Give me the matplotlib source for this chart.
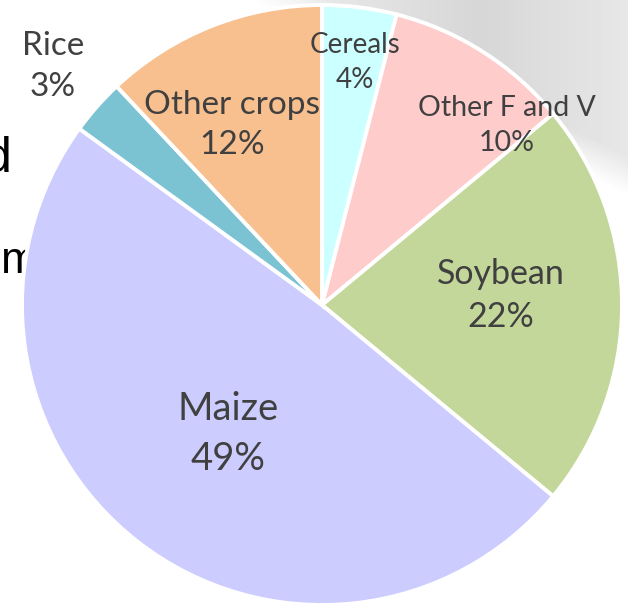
import matplotlib
matplotlib.use("Agg")
from matplotlib import pyplot as plt
import numpy as np

plt.rcParams['font.family'] = ['Lato', 'DejaVu Sans']

# data
crops = ["Cereals", "Other F and V", "Soybean", "Maize", "Rice", "Other crops"]
shares = [4, 10, 22, 49, 3, 12]
colors = ["#CCFFFF", "#FFCCCC", "#C4D79B", "#CCCCFF", "#7BC3D3", "#F8C08F"]

# label placement (x, y in pie radii from centre) and font size
label_pos = [(0.11, 0.808), (0.617, 0.598), (0.597, 0.032), (-0.313, -0.43), (-0.897, 0.795), (-0.30, 0.60)]
label_size = [20, 20.5, 24.5, 27.5, 24, 24]

fig = plt.figure(figsize=(6.28, 6.08), dpi=100)

# grey photo-like backdrop in the top right corner
bg = fig.add_axes([0, 0, 1, 1])
yy, xx = np.mgrid[0:608, 0:628]
edge = 0.52 * (xx - 250)
inside = np.clip((edge - yy) / 40.0, 0, 1)
shade = 0.84 + 0.08 * np.clip(np.abs(xx - 480) / 180.0, 0, 1)
img = 1 - inside * (1 - shade)
bg.imshow(img, cmap="gray", vmin=0, vmax=1, aspect="auto", extent=[0, 628, 608, 0])
bg.set_xlim(0, 628)
bg.set_ylim(608, 0)
bg.axis("off")

# leftover slide text fragments on the left
bg.text(12, 172, "d", fontsize=36, color="black", ha="right", va="baseline",
        family=["Liberation Sans"])
bg.text(38, 273, "m", fontsize=32, color="black", ha="right", va="baseline",
        family=["Liberation Sans"])

ax = fig.add_axes([0, 0, 1, 1])
ax.patch.set_alpha(0)
wedges, _ = ax.pie(shares, colors=colors, startangle=90, counterclock=False,
                   radius=1.0, wedgeprops=dict(edgecolor="white", linewidth=2.8))

for name, val, (x, y), fs in zip(crops, shares, label_pos, label_size):
    ax.text(x, y, f"{name}\n{val}%", ha="center", va="center", fontsize=fs,
            color="#404040", linespacing=1.45)

ax.set_xlim(-322 / 300, 306 / 300)
ax.set_ylim(-303 / 300, 305 / 300)
ax.set_aspect("equal")
ax.axis("off")

fig.savefig("out.png", dpi=100)
